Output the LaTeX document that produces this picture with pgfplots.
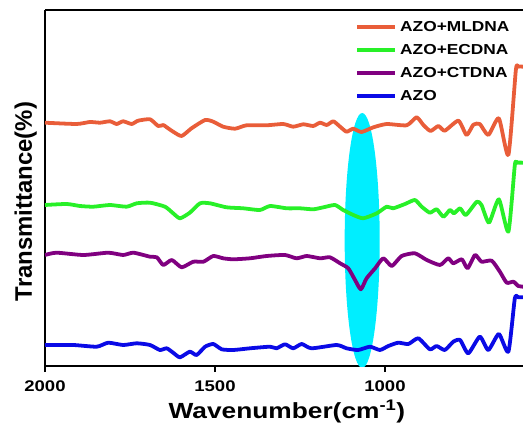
\documentclass[border=0pt]{standalone}
\usepackage{fontspec}
\setmainfont{Liberation Sans}[FakeStretch=1.2]
\newfontfamily\ylabfont{Liberation Sans}
\usepackage{pgfplots}
\pgfplotsset{compat=1.18}
\usetikzlibrary{calc}
\definecolor{cML}{RGB}{233,93,57}
\definecolor{cEC}{RGB}{40,240,40}
\definecolor{cCT}{RGB}{128,0,128}
\definecolor{cAZO}{RGB}{10,10,230}
\definecolor{cband}{RGB}{0,238,255}
\begin{document}
\begin{tikzpicture}
\begin{axis}[name=ax,scale only axis,width=478bp,height=356bp,
	x dir=reverse,xmin=594,xmax=2000,ymin=61,ymax=417,
	axis x line*=box,axis y line*=left,axis line style={line width=1.5pt},
	xtick={1000,1500,2000},xtick pos=lower,tick style={line width=1.5pt,black},
	major tick length=6bp,xtick align=outside,ytick=\empty,
	/pgf/number format/1000 sep={},/pgf/number format/assume math mode=true,
	xticklabel style={font=\fontsize{15.5}{15.5}\selectfont\bfseries,inner sep=0pt,yshift=-9bp},
	xlabel={Wavenumber(cm\textsuperscript{-1})},
	xlabel style={font=\fontsize{22}{22}\selectfont\bfseries,at={(rel axis cs:0.506,0)},anchor=north,inner sep=0pt,yshift=-34bp},
	ylabel={Transmittance(\%)},
	ylabel style={font=\fontsize{24}{24}\selectfont\ylabfont\bfseries,at={(rel axis cs:0,0.462)},anchor=south,inner sep=0pt,yshift=8bp},
	legend cell align=left,
	legend image code/.code={\draw[#1,line width=4pt] (0bp,0bp) -- (38bp,0bp);},
	legend style={draw=none,fill=none,font=\fontsize{14.5}{14.5}\selectfont\bfseries,
		at={(rel axis cs:0.6485,0.969)},anchor=north west,row sep=11.5bp,column sep=3bp,
		inner sep=0pt,nodes={inner sep=0pt}},
	every axis plot/.append style={line width=3.8pt,line join=round,smooth,tension=0.35}]
\fill[cband] (axis cs:1067,186.5) ellipse [x radius=51.5,y radius=127.5];
\addplot[cML] coordinates {(2000,304.3) (1907,303) (1868,305) (1838,304.3) (1809,305.7) (1789,303)
	(1770,305.7) (1745,303) (1726,306.3) (1691,307.7) (1667,301) (1652,302) (1642,299.7) (1623,295.3)
	(1598,291) (1569,298.7) (1529,307) (1505,305.3) (1476,300.3) (1441,298.3) (1407,301.7) (1348,301.7)
	(1299,303) (1270,300.3) (1240,302.7) (1211,301) (1191,304.3) (1171,302) (1152,305.7) (1132,300.3)
	(1113,295.3) (1093,298.3) (1069,295) (1034,299.7) (995,303) (936,301.7) (907,309.7) (887,302)
	(866,296) (843,301) (824,296.3) (784,306.3) (760,292) (740,302.3) (721,303) (696,292) (665,308.7)
	(637,272) (615,357) (608,360.3) (593,360.3)};
\addlegendentry{AZO+MLDNA}
\addplot[cEC] coordinates {(2000,222) (1936,223) (1897,221) (1858,220.3) (1809,222) (1760,220.3)
	(1730,223.7) (1691,224.3) (1647,220.3) (1623,213.7) (1603,208.7) (1574,214.3) (1544,223.7) (1515,223.7)
	(1466,219.7) (1417,218.7) (1368,217) (1338,221) (1289,218.7) (1250,218.7) (1211,217.7) (1181,219.7)
	(1147,222) (1123,217) (1093,212) (1064,208.7) (1024,213.7) (995,220.3) (976,218.7) (941,223) (912,227)
	(892,220.3) (868,214.3) (848,217.7) (828,210.3) (809,217) (797,213.7) (779,218.7) (762,212) (730,225.3)
	(716,222) (694,204.3) (665,227.7) (637,195.3) (618,262) (611,264.3) (593,264.3)};
\addlegendentry{AZO+ECDNA}
\addplot[cCT] coordinates {(2000,172) (1966,174.3) (1887,172) (1814,174.3) (1770,172) (1740,174.3)
	(1691,170.3) (1671,169.7) (1652,162) (1627,167) (1598,159.7) (1564,165.3) (1534,165.3) (1505,171)
	(1476,168.7) (1446,167.7) (1397,168.7) (1348,171) (1294,172) (1260,168.7) (1230,171) (1191,168.7)
	(1162,169.7) (1132,163.7) (1108,158.7) (1088,147) (1071,137.7) (1054,148.7) (1029,158.7) (1005,168.7)
	(980,161) (951,171) (912,173.7) (877,167) (838,162) (814,168.7) (799,163.7) (774,167.7) (757,158.7)
	(735,172) (716,165.3) (686,166.3) (662,155.3) (642,144.3) (622,145.3) (608,141) (593,140.3)};
\addlegendentry{AZO+CTDNA}
\addplot[cAZO] coordinates {(2000,82) (1917,82) (1848,80.3) (1814,84.3) (1770,82) (1730,83.7) (1691,82)
	(1662,77) (1642,78.7) (1623,74.3) (1603,69.7) (1574,75.3) (1554,72) (1529,80.3) (1505,83) (1480,77.7)
	(1446,77) (1397,78.7) (1338,80.3) (1319,78.7) (1294,82.7) (1270,78.7) (1245,83) (1216,78.7) (1142,82)
	(1113,78.7) (1079,77) (1044,80.3) (1015,77) (990,81) (961,84.3) (931,83) (902,88.7) (868,77.7) (848,81)
	(824,77) (799,85.3) (779,87) (755,73.7) (721,90.3) (696,77) (665,93) (637,75.3) (618,128.7) (608,129.7)
	(593,129.7)};
\addlegendentry{AZO}
\end{axis}
\pgfresetboundingbox
\path[use as bounding box] ($(ax.south west)+(-45bp,-61bp)$) rectangle ($(ax.north east)+(0bp,10bp)$);
\end{tikzpicture}
\end{document}
